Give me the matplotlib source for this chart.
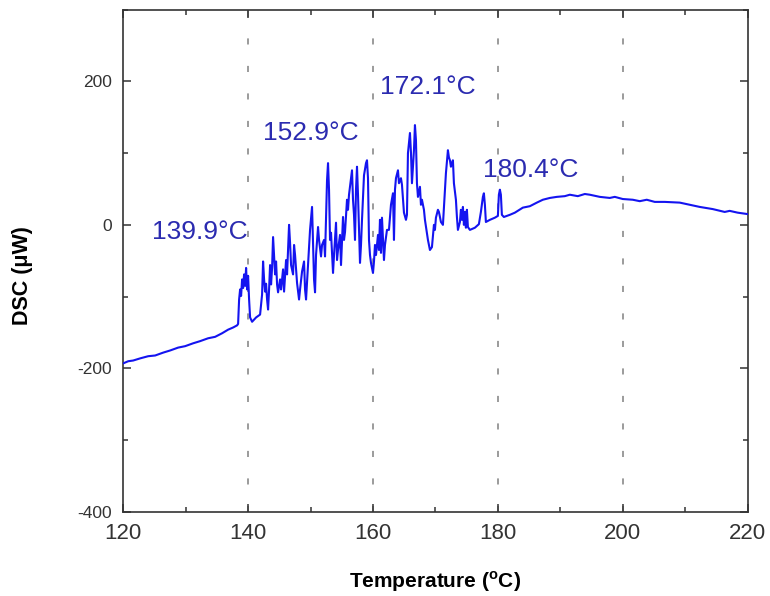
import matplotlib.pyplot as plt
from matplotlib.ticker import MultipleLocator

# DSC trace (temperature in degC, heat flow in uW)
temperature = [
    120.0, 120.8, 121.6, 122.72, 124.0, 125.12, 126.4, 127.52, 128.8, 129.92,
    131.2, 132.32, 133.6, 134.72, 135.84, 136.8, 137.6, 138.24,
    138.4, 138.56, 138.72, 138.88, 139.04, 139.2, 139.36, 139.52, 139.68, 139.84,
    140.0, 140.16, 140.32, 140.64, 141.28, 141.92, 142.24, 142.4, 142.56, 142.72,
    142.88, 143.04, 143.2, 143.36, 143.52, 143.68, 143.84, 144.0, 144.16, 144.32,
    144.48, 144.64, 144.8, 145.12, 145.28, 145.6, 145.76, 146.08, 146.24, 146.56,
    146.72, 146.88, 147.2, 147.36, 147.52, 147.84, 148.16, 148.32, 148.64, 148.96,
    149.12, 149.28, 149.6, 149.92, 150.24, 150.4, 150.56, 150.72, 150.88, 151.2,
    151.36, 151.68, 151.84, 152.16, 152.32, 152.64, 152.8, 152.96, 153.12, 153.28,
    153.6, 153.76, 154.08, 154.24, 154.4, 154.72, 154.88, 155.04, 155.2, 155.36,
    155.52, 155.84, 156.0, 156.16, 156.32, 156.64, 156.8, 156.96, 157.12, 157.28,
    157.44, 157.6, 157.92, 158.08, 158.24, 158.56, 158.88, 159.04, 159.2, 159.36,
    159.52, 159.68, 160.0, 160.16, 160.32, 160.48, 160.8, 160.96, 161.12, 161.28,
    161.44, 161.76, 161.92, 162.24, 162.56, 162.88, 163.2, 163.36, 163.52, 163.68,
    164.0, 164.16, 164.48, 164.64, 164.96, 165.28, 165.44, 165.6, 165.92, 166.08,
    166.24, 166.56, 166.72, 166.88, 167.04, 167.2, 167.52, 167.68, 167.84, 168.16,
    168.32, 168.64, 168.8, 169.12, 169.44, 169.76, 169.92, 170.08, 170.4, 170.56,
    170.88, 171.2, 171.52, 171.68, 172.0, 172.16, 172.32, 172.48, 172.64, 172.8,
    172.96, 173.28, 173.44, 173.6, 173.92, 174.08, 174.24, 174.4, 174.56, 174.72,
    174.88, 175.04, 175.2, 175.52, 176.32, 176.96, 177.28, 177.6, 177.76, 177.92,
    178.08, 178.72, 179.52, 180.0, 180.16, 180.32, 180.48, 180.64, 180.96, 181.92,
    182.72, 184.0, 185.12, 186.24, 187.2, 188.32, 189.44, 190.72, 191.52, 192.8,
    193.92, 194.72, 196.32, 197.92, 198.72, 200.0, 201.6, 202.72, 203.84, 205.12,
    206.72, 209.12, 210.72, 212.32, 214.4, 216.32, 217.12, 218.4, 220.0,
]
dsc = [
    -193, -190, -189, -186, -183, -182, -178, -175, -171, -169,
    -165, -162, -158, -156, -151, -146, -143, -140,
    -138, -104, -90, -99, -76, -88, -69, -85, -60, -90,
    -71, -104, -129, -135, -129, -125, -97, -51, -76, -93,
    -82, -104, -118, -90, -56, -83, -60, -17, -42, -69,
    -51, -83, -94, -76, -90, -62, -93, -49, -69, 0,
    -25, -56, -69, -28, -42, -81, -104, -90, -65, -51,
    -90, -104, -56, -7, 25, -28, -76, -94, -42, -3,
    -21, -44, -28, -21, -44, 62, 86, 49, -21, -11,
    -67, -42, 3, -49, -35, -14, -56, -21, 11, -21,
    -10, 35, 21, 42, 53, 76, 35, 14, -21, 49,
    81, 42, -53, -28, 7, 69, 86, 90, 65, -21,
    -42, -53, -67, -51, -28, -42, -14, -35, 7, -39,
    10, -49, -28, -7, -7, 28, 44, -21, 49, 65,
    76, 58, 65, 56, 17, 7, 14, 100, 128, 101,
    58, 104, 139, 118, 58, 39, 53, 28, 35, 21,
    7, -11, -21, -35, -31, 0, -7, 10, 21, 18,
    4, 0, 49, 72, 104, 94, 90, 81, 86, 90,
    58, 35, 11, -7, 4, 21, 7, 25, 0, 18,
    -4, 21, -3, -7, -4, 1, 18, 39, 44, 28,
    4, 7, 10, 12.5, 42, 49, 42, 14, 11, 14,
    17, 24, 26, 31, 35, 37.5, 39, 40, 42, 40,
    43, 42, 39, 37.5, 39, 36, 35, 33, 35, 32,
    32, 31, 28, 25, 22, 18, 19.5, 17, 15,
]

peak_labels = ["139.9°C", "152.9°C", "172.1°C", "180.4°C"]
label_x = [124.6, 142.4, 161.1, 177.6]
label_y = [-10, 128, 192, 76]

GRID_TEMPS = [140, 160, 180, 200]
LINE_COLOR = "#1414f0"
TEXT_COLOR = "#2b2bb0"
AXIS_COLOR = "#333333"

plt.rcParams["font.family"] = ["Liberation Sans", "DejaVu Sans"]
plt.rcParams["axes.unicode_minus"] = False

fig = plt.figure(figsize=(7.7, 5.96), dpi=100)
ax = fig.add_axes([0.160, 0.141, 0.811, 0.843])

for t in GRID_TEMPS:
    ax.axvline(t, color="#808080", linewidth=1.1, linestyle=(0, (4, 14)), zorder=1)

ax.plot(temperature, dsc, color=LINE_COLOR, linewidth=1.5, zorder=3)

for text, x, y in zip(peak_labels, label_x, label_y):
    ax.text(x, y, text, color=TEXT_COLOR, fontsize=19, ha="left", va="center", zorder=4)

ax.set_xlim(120, 220)
ax.set_ylim(-400, 300)
ax.xaxis.set_major_locator(MultipleLocator(20))
ax.xaxis.set_minor_locator(MultipleLocator(10))
ax.yaxis.set_major_locator(MultipleLocator(200))
ax.yaxis.set_minor_locator(MultipleLocator(100))
ax.set_yticks([-400, -200, 0, 200])

ax.tick_params(which="both", direction="in", top=True, right=True, colors=AXIS_COLOR, width=1.1)
ax.tick_params(which="major", length=6)
ax.tick_params(which="minor", length=3.5)
ax.tick_params(axis="x", labelsize=16, pad=8)
ax.tick_params(axis="y", labelsize=12.5, pad=8)
for spine in ax.spines.values():
    spine.set_color(AXIS_COLOR)
    spine.set_linewidth(1.2)

ax.set_xlabel(r"Temperature ($^\mathregular{o}$C)", fontsize=15, fontweight="bold", color="black")
ax.set_ylabel("DSC (\u03bcW)", fontsize=15.5, fontweight="bold", color="black")
ax.xaxis.set_label_coords(0.5, -0.115)
ax.yaxis.set_label_coords(-0.145, 0.47)

fig.savefig("out.png", dpi=100)
